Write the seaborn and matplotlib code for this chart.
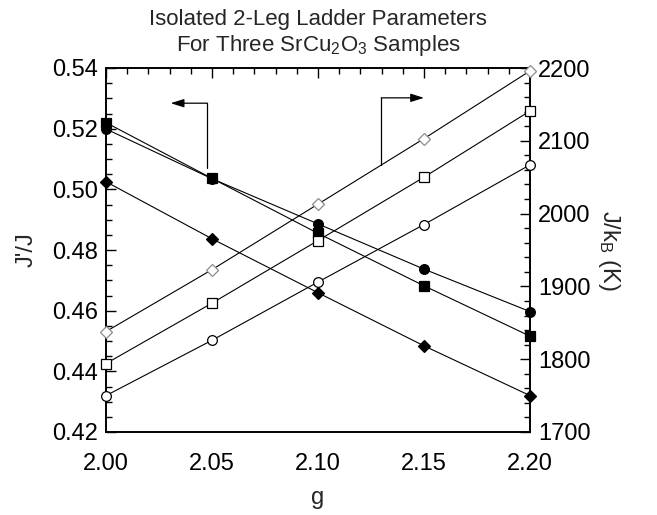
import matplotlib
matplotlib.use("Agg")
import matplotlib.pyplot as plt
import seaborn as sns
import numpy as np
import pandas as pd
from matplotlib.ticker import MultipleLocator, FormatStrFormatter

sns.set_style("white")
plt.rcParams["font.family"] = ["Liberation Sans", "DejaVu Sans"]
plt.rcParams["mathtext.fontset"] = "custom"
plt.rcParams["mathtext.rm"] = "Liberation Sans"
plt.rcParams["mathtext.it"] = "Liberation Sans:italic"
plt.rcParams["mathtext.default"] = "rm"

# g-factor values
g = [2.00, 2.05, 2.10, 2.15, 2.20]

# J'/J (left axis), filled symbols
jratio_square = [0.5220, 0.5036, 0.4855, 0.4682, 0.4516]
jratio_circle = [0.5199, 0.5035, 0.4886, 0.4737, 0.4597]
jratio_diamond = [0.5025, 0.4837, 0.4659, 0.4484, 0.4320]

# J/kB in K (right axis), open symbols
jk_diamond = [1838, 1923, 2013, 2103, 2196]
jk_square = [1794, 1877, 1963, 2050, 2141]
jk_circle = [1750, 1826, 1906, 1985, 2067]

FS = 17

fig = plt.figure(figsize=(6.57, 5.15), dpi=100)
ax = fig.add_axes([106 / 657, 1 - 432 / 515, 424 / 657, 364 / 515])
ax2 = ax.twinx()

def draw(axis, y, marker, face, edge, size):
    df = pd.DataFrame({"g": g, "v": y})
    sns.lineplot(data=df, x="g", y="v", ax=axis, color="black", lw=0.8,
                 marker=marker, markersize=size, markerfacecolor=face,
                 markeredgecolor=edge, markeredgewidth=0.9, clip_on=False,
                 zorder=3)

draw(ax, jratio_square, "s", "black", "black", 7)
draw(ax, jratio_circle, "o", "black", "black", 7)
draw(ax, jratio_diamond, "D", "black", "black", 6)

draw(ax2, jk_diamond, "D", "white", "#8c8c8c", 6)
draw(ax2, jk_square, "s", "white", "black", 7)
draw(ax2, jk_circle, "o", "white", "black", 7)

ax.set_xlim(2.00, 2.20)
ax.set_ylim(0.42, 0.54)
ax2.set_ylim(1700, 2200)

ax.xaxis.set_major_locator(MultipleLocator(0.05))
ax.xaxis.set_minor_locator(MultipleLocator(0.01))
ax.xaxis.set_major_formatter(FormatStrFormatter("%.2f"))
ax.yaxis.set_major_locator(MultipleLocator(0.02))
ax.yaxis.set_minor_locator(MultipleLocator(0.005))
ax.yaxis.set_major_formatter(FormatStrFormatter("%.2f"))
ax2.yaxis.set_major_locator(MultipleLocator(100))
ax2.yaxis.set_minor_locator(MultipleLocator(20))

ax.tick_params(axis="both", which="both", direction="in", colors="black",
               labelsize=FS, top=True, right=False, width=1)
ax.tick_params(axis="both", which="major", length=7)
ax.tick_params(axis="both", which="minor", length=4)
ax.tick_params(axis="x", which="major", pad=15)
ax.tick_params(axis="y", which="major", pad=6)
ax2.tick_params(axis="y", which="both", direction="in", labelsize=FS,
                width=1, pad=6, colors="black")
ax2.tick_params(axis="y", which="major", length=7)
ax2.tick_params(axis="y", which="minor", length=4)

for a in (ax, ax2):
    for s in a.spines.values():
        s.set_color("black")
        s.set_linewidth(1.2)

ax.set_xlabel("g", fontsize=FS, labelpad=9)
ax.set_ylabel("J'/J", fontsize=FS, labelpad=10)
ax2.set_ylabel("J/k$_B$ (K)", fontsize=FS, rotation=270, labelpad=22)

# guide arrows pointing each family of curves to its axis
ax.annotate("", xy=(2.0305, 0.5284), xytext=(2.0478, 0.5284),
            arrowprops=dict(arrowstyle="-|>,head_length=0.8,head_width=0.25",
                            color="black", lw=0.9, shrinkA=0, shrinkB=0))
ax.plot([2.0478, 2.0478], [0.5284, 0.5070], color="black", lw=0.9)
ax2.annotate("", xy=(2.1500, 2159), xytext=(2.1298, 2159),
             arrowprops=dict(arrowstyle="-|>,head_length=0.8,head_width=0.25",
                             color="black", lw=0.9, shrinkA=0, shrinkB=0))
ax2.plot([2.1298, 2.1298], [2159, 2067], color="black", lw=0.9)

fig.text(318 / 657, 1 - 19 / 515, "Isolated 2-Leg Ladder Parameters",
         ha="center", va="center", fontsize=16)
fig.text(318 / 657, 1 - 46 / 515, "For Three SrCu$_2$O$_3$ Samples",
         ha="center", va="center", fontsize=16)

fig.savefig("out.png", dpi=100)
